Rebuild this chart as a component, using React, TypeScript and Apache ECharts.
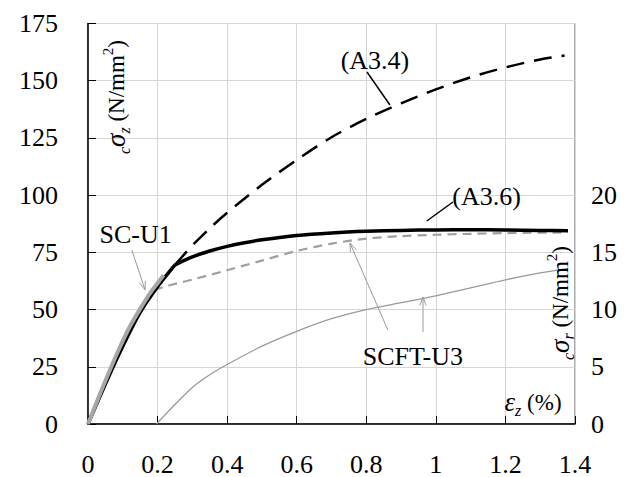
import React, { useEffect, useRef } from "react";
import * as echarts from "echarts";

const FONT = "Liberation Serif";

// Axis strain (%) vs stress pairs for each curve
const A36_ELASTIC: [number, number][] = [
  [0, 0], [0.05, 17.5], [0.1, 34], [0.15, 48.8], [0.2, 60], [0.25, 69.5],
];
const A36_PLASTIC: [number, number][] = [
  [0.25, 69.5], [0.3, 73], [0.35, 75.6], [0.4, 77.6], [0.45, 79.2], [0.5, 80.5], [0.6, 82.4],
  [0.7, 83.5], [0.8, 84.2], [0.9, 84.6], [1.0, 84.8], [1.1, 84.9], [1.2, 84.8],
  [1.3, 84.6], [1.38, 84.4],
];

const A34: [number, number][] = [
  [0.25, 69.5], [0.3, 78], [0.35, 85.5], [0.4, 92.3], [0.5, 104.5], [0.6, 115.4],
  [0.7, 125.3], [0.8, 133.3], [0.9, 140.1], [1.0, 146.2], [1.1, 151.5],
  [1.2, 155.8], [1.3, 159.3], [1.37, 161],
];

const SCFT_U3_AXIAL_ELASTIC: [number, number][] = [
  [0, 0], [0.05, 18], [0.1, 34.5], [0.15, 49], [0.19, 58.5],
];
const SCFT_U3_AXIAL_PLASTIC: [number, number][] = [
  [0.19, 58.5], [0.22, 60], [0.25, 61.2], [0.3, 63.1], [0.4, 67.2], [0.5, 71.4], [0.6, 75.6],
  [0.7, 78.8], [0.8, 81], [0.9, 82.1], [1.0, 82.7], [1.1, 83.1], [1.2, 83.4],
  [1.3, 83.6], [1.38, 83.7],
];

const SC_U1: [number, number][] = [
  [0, 0], [0.03, 11.5], [0.06, 22.5], [0.09, 33], [0.12, 42.5], [0.15, 50.3],
  [0.18, 57.5], [0.2, 61.5], [0.217, 65],
];

// Radial stress, plotted on the right axis
const SCFT_U3_RADIAL: [number, number][] = [
  [0.197, 0], [0.25, 1.7], [0.3, 3.2], [0.35, 4.3], [0.4, 5.2], [0.5, 6.8], [0.6, 8.1],
  [0.7, 9.2], [0.8, 10.0], [0.9, 10.6], [1.0, 11.2], [1.1, 11.9], [1.2, 12.6],
  [1.3, 13.2], [1.38, 13.6],
];

// Callout texts, anchored in data coordinates
const CALLOUTS = [
  { text: "(A3.4)", at: [0.825, 159] },
  { text: "(A3.6)", at: [1.146, 99.3] },
  { text: "SC-U1", at: [0.137, 82.6] },
  { text: "SCFT-U3", at: [0.934, 29.3] },
];

const POINTERS = [
  { from: [0.802, 153.8], to: [0.868, 139.4], arrow: false, color: "#000", width: 1.5 },
  { from: [0.974, 88.7], to: [1.049, 97], arrow: false, color: "#000", width: 1.5 },
  { from: [0.126, 76], to: [0.164, 58.6], arrow: true, color: "#999", width: 1 },
  { from: [0.862, 41.1], to: [0.753, 79.1], arrow: true, color: "#999", width: 1 },
  { from: [0.963, 40.2], to: [0.963, 55.5], arrow: true, color: "#999", width: 1 },
];

const fmtX = (v: number) => String(Math.round(v * 10) / 10);

export default function App() {
  const ref = useRef<HTMLDivElement>(null);

  useEffect(() => {
    if (!ref.current) return;
    const chart = echarts.init(ref.current, null, { renderer: "svg" });

    const labelStyle = { fontSize: 26, fontFamily: FONT, color: "#000" };
    const line = (
      data: [number, number][],
      color: string,
      width: number,
      type: any,
      z: number,
      smooth: number | boolean,
      yAxisIndex = 0
    ) => ({
      type: "line",
      data,
      yAxisIndex,
      symbol: "none",
      silent: true,
      smooth,
      z,
      lineStyle: { color, width, type, cap: "butt", join: "round" },
    });

    chart.setOption({
      animation: false,
      backgroundColor: "#fff",
      textStyle: { fontFamily: FONT },
      grid: { left: 88, right: 50, top: 23.5, bottom: 53, show: true, borderColor: "#555", borderWidth: 1 },
      xAxis: {
        type: "value",
        min: 0,
        max: 1.4,
        interval: 0.2,
        axisLine: { show: true, lineStyle: { color: "#000", width: 1.5 } },
        axisTick: { show: true, inside: true, length: 8, lineStyle: { color: "#000" } },
        axisLabel: { ...labelStyle, margin: 27, formatter: fmtX },
        splitLine: { show: true, lineStyle: { color: "#d6d6d6", width: 1 } },
      },
      yAxis: [
        {
          type: "value",
          min: 0,
          max: 175,
          interval: 25,
          axisLine: { show: true, lineStyle: { color: "#000", width: 1.5 } },
          axisTick: { show: true, inside: true, length: 8, lineStyle: { color: "#000" } },
          axisLabel: { ...labelStyle, margin: 30 },
          splitLine: { show: true, lineStyle: { color: "#d6d6d6", width: 1 } },
        },
        {
          type: "value",
          position: "right",
          min: 0,
          max: 35,
          interval: 5,
          axisLine: { show: false },
          axisTick: { show: false },
          axisLabel: { ...labelStyle, margin: 16, formatter: (v: number) => (v <= 20 ? String(v) : "") },
          splitLine: { show: false },
        },
      ],
      series: [
        line(SCFT_U3_RADIAL, "#9a9a9a", 1.3, "solid", 2, 0.3, 1),
        line(SCFT_U3_AXIAL_ELASTIC, "#a0a0a0", 2.2, [9, 6], 3, 0.2),
        line(SCFT_U3_AXIAL_PLASTIC, "#a0a0a0", 2.2, [9, 6], 3, 0.3),
        line(A34, "#000", 2.5, [18, 10], 4, 0.3),
        line(A36_ELASTIC, "#000", 3.5, "solid", 5, 0.2),
        line(A36_PLASTIC, "#000", 3.5, "solid", 5, 0.3),
        line(SC_U1, "#a6a6a6", 4, "solid", 6, 0.2),
      ],
    });

    const px = (p: number[]) => chart.convertToPixel({ xAxisIndex: 0, yAxisIndex: 0 }, p) as number[];
    const graphics: any[] = [];

    CALLOUTS.forEach((c) => {
      const [x, y] = px(c.at);
      graphics.push({
        type: "text",
        x,
        y,
        z: 100,
        style: {
          text: c.text,
          fontSize: 26,
          fontFamily: FONT,
          fill: "#000",
          align: "center",
          verticalAlign: "middle",
        },
      });
    });

    POINTERS.forEach((p) => {
      const [x1, y1] = px(p.from);
      const [x2, y2] = px(p.to);
      graphics.push({
        type: "line",
        z: 100,
        shape: { x1, y1, x2, y2 },
        style: { stroke: p.color, lineWidth: p.width },
      });
      if (p.arrow) {
        const ang = Math.atan2(y2 - y1, x2 - x1);
        const len = 9;
        const spread = 0.35;
        graphics.push({
          type: "polyline",
          z: 100,
          shape: {
            points: [
              [x2 - len * Math.cos(ang - spread), y2 - len * Math.sin(ang - spread)],
              [x2, y2],
              [x2 - len * Math.cos(ang + spread), y2 - len * Math.sin(ang + spread)],
            ],
          },
          style: { stroke: p.color, lineWidth: p.width, fill: null },
        });
      }
    });

    const rich = {
      m: { fontFamily: FONT, fontSize: 23, lineHeight: 32, verticalAlign: "middle", fill: "#000" },
      s: { fontFamily: FONT, fontSize: 27, fontStyle: "italic", lineHeight: 32, verticalAlign: "middle", fill: "#000" },
      b: { fontFamily: FONT, fontSize: 16, fontStyle: "italic", lineHeight: 16, verticalAlign: "bottom", fill: "#000" },
      p: { fontFamily: FONT, fontSize: 15, lineHeight: 15, verticalAlign: "top", fill: "#000" },
    };

    // Axis titles
    graphics.push(
      {
        type: "text",
        x: 116,
        y: 97,
        rotation: Math.PI / 2,
        z: 100,
        style: {
          text: "{b|c}{s|σ}{b|z}{m| (N/mm}{p|2}{m|)}",
          rich,
          align: "center",
          verticalAlign: "middle",
        },
      },
      {
        type: "text",
        x: 560,
        y: 303,
        rotation: Math.PI / 2,
        z: 100,
        style: {
          text: "{b|c}{s|σ}{b|r}{m| (N/mm}{p|2}{m|)}",
          rich,
          align: "center",
          verticalAlign: "middle",
        },
      },
      {
        type: "text",
        x: 533,
        y: 402,
        z: 100,
        style: {
          text: "{s|ε}{b|z}{m| (%)}",
          rich,
          align: "center",
          verticalAlign: "middle",
        },
      }
    );

    chart.setOption({ graphic: graphics });

    return () => chart.dispose();
  }, []);

  return (
    <div
      ref={ref}
      style={{ position: "fixed", left: 0, top: 0, width: 625, height: 477, background: "#fff" }}
    />
  );
}
